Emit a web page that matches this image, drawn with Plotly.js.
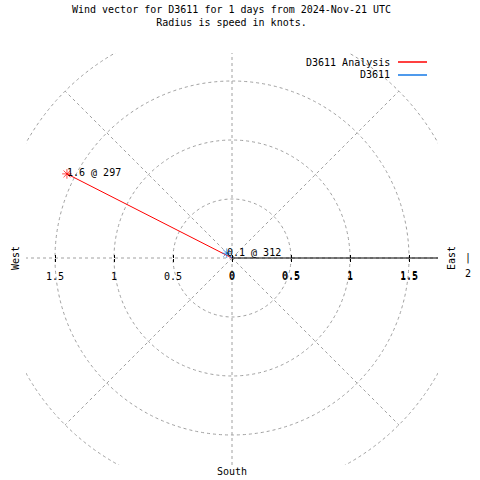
<!DOCTYPE html>
<html><head><meta charset="utf-8">
<script src="https://cdn.plot.ly/plotly-3.0.1.min.js"></script>
<style>html,body{margin:0;padding:0;background:#fff;}#chart{width:480px;height:480px;}</style>
</head><body><div id="chart"></div>
<script>
// ---- data ----
const seriesNames = ['D3611 Analysis', 'D3611'];
const speedsKnots = [1.57, 0.06];
const directionsDeg = [297, 312];
const ringRadii = [0.5, 1, 1.5, 2];
const spokeAngles = [0, 45, 90, 135, 180, 225, 270, 315];
const tickValues = [-1.5, -1, -0.5, 0, 0.5, 1, 1.5];
const tickLabels = ['1.5', '1', '0.5', '0', '0.5', '1', '1.5'];
const outerTickValue = 2;
const outerTickLabel = '2';
const titleLines = ['Wind vector for D3611 for 1 days from 2024-Nov-21 UTC', 'Radius is speed in knots.'];
const compassLabels = ['West', 'East', 'South'];

// ---- style / geometry ----
const seriesColors = ['#ff0000', '#1478e6'];
const FONT = 'DejaVu Sans Mono, Liberation Mono, monospace';
const GRID = '#a0a0a0';
const DASH = '3px,3px';
const PL = 26, PR = 438, PT = 53, PB = 465, CX = 232, CY = 258, K = 118;
const xRange = [(PL - CX) / K, (PR - CX) / K];
const yRange = [(CY - PB) / K, (CY - PT) / K];
const pxX = p => (p - PL) / (PR - PL);
const pxY = p => (PB - p) / (PB - PT);
const dataX = v => (v - xRange[0]) / (xRange[1] - xRange[0]);
const rad = d => d * Math.PI / 180;
const toXY = (r, deg) => [r * Math.sin(rad(deg)), r * Math.cos(rad(deg))];
const axisPos = (0 - yRange[0]) / (yRange[1] - yRange[0]);
const font = () => ({family: FONT, size: 10, color: '#000000'});
const outerRing = Math.max(...ringRadii);

const traces = seriesNames.map((name, i) => {
  const [x, y] = toXY(speedsKnots[i], directionsDeg[i]);
  return {
    type: 'scatter', mode: 'lines+markers', name: name,
    x: [0, x], y: [0, y],
    line: {color: seriesColors[i], width: 1},
    marker: {symbol: 'asterisk-open', size: [0, 8], color: seriesColors[i],
             line: {color: seriesColors[i], width: 1}},
    showlegend: false, cliponaxis: false
  };
});
traces.push({type: 'scatter', x: [], y: [], xaxis: 'x2', yaxis: 'y', showlegend: false, hoverinfo: 'skip'});

const shapes = [];
ringRadii.forEach(r => shapes.push({
  type: 'circle', xref: 'x', yref: 'y', x0: -r, x1: r, y0: -r, y1: r,
  line: {color: GRID, width: 1, dash: DASH}, layer: 'below'
}));
spokeAngles.forEach(a => {
  const [x, y] = toXY(outerRing, a);
  shapes.push({type: 'line', xref: 'x', yref: 'y', x0: 0, y0: 0, x1: x, y1: y,
    line: {color: GRID, width: 1, dash: DASH}, layer: 'below'});
});
shapes.push({type: 'line', xref: 'x', yref: 'y', x0: 0, y0: 0, x1: xRange[1], y1: 0,
  line: {color: '#000', width: 1}, layer: 'below'});

const annotations = [];
// point labels
seriesNames.forEach((name, i) => {
  const [x, y] = toXY(speedsKnots[i], directionsDeg[i]);
  annotations.push({xref: 'x', yref: 'y', x: x, y: y, xanchor: 'left', yanchor: 'middle',
    text: speedsKnots[i].toFixed(1) + ' @ ' + directionsDeg[i], showarrow: false, font: font(),
    xshift: -2, yshift: 1});
});
// legend (gnuplot style: text then line sample)
const legendY = [62, 75];
seriesNames.forEach((name, i) => {
  annotations.push({xref: 'paper', yref: 'paper', x: pxX(392), y: pxY(legendY[i]),
    xanchor: 'right', yanchor: 'middle', text: name, showarrow: false, font: font()});
  shapes.push({type: 'line', xref: 'paper', yref: 'paper', x0: pxX(398), x1: pxX(427),
    y0: pxY(legendY[i]), y1: pxY(legendY[i]), line: {color: seriesColors[i], width: 1.5}});
});
// outer tick beyond the plot area
annotations.push({xref: 'paper', yref: 'paper', x: dataX(outerTickValue), y: axisPos, text: '|', showarrow: false,
  xanchor: 'center', yanchor: 'middle', font: font()});
annotations.push({xref: 'paper', yref: 'paper', x: dataX(outerTickValue), y: axisPos, text: outerTickLabel, showarrow: false,
  xanchor: 'center', yanchor: 'middle', yshift: -15, font: font()});
// compass labels
annotations.push({xref: 'paper', yref: 'paper', x: pxX(15), y: pxY(258), text: compassLabels[0],
  textangle: -90, showarrow: false, xanchor: 'center', yanchor: 'middle', font: font()});
annotations.push({xref: 'paper', yref: 'paper', x: pxX(451), y: pxY(258), text: compassLabels[1],
  textangle: -90, showarrow: false, xanchor: 'center', yanchor: 'middle', font: font()});
annotations.push({xref: 'paper', yref: 'paper', x: pxX(232), y: pxY(471), text: compassLabels[2],
  showarrow: false, xanchor: 'center', yanchor: 'middle', font: font()});

const baseX = () => ({
  range: xRange, showgrid: false, zeroline: false, showline: false,
  tickmode: 'array', tickvals: tickValues, tickwidth: 1, tickcolor: '#000', ticklen: 3,
  tickfont: font(), anchor: 'free', position: axisPos, fixedrange: true
});

const layout = {
  width: 480, height: 480,
  margin: {l: PL, r: 480 - PR, t: PT, b: 480 - PB, pad: 0},
  paper_bgcolor: '#fff', plot_bgcolor: '#fff',
  showlegend: false, hovermode: false,
  title: {text: titleLines.join('<br>'), font: font(), x: 231.5 / 480, xref: 'container',
    xanchor: 'center', y: 1 - 13 / 480, yref: 'container', yanchor: 'top'},
  xaxis: Object.assign(baseX(), {ticktext: tickLabels, ticks: 'outside', ticklabelstandoff: 6}),
  xaxis2: Object.assign(baseX(), {overlaying: 'x', ticks: 'inside', ticklabelstandoff: 10,
    ticktext: tickLabels.map((t, i) => tickValues[i] >= 0 ? t : '')}),
  yaxis: {range: yRange, visible: false, fixedrange: true},
  shapes: shapes, annotations: annotations
};

Plotly.newPlot('chart', traces, layout, {staticPlot: true, displayModeBar: false});
</script></body></html>
